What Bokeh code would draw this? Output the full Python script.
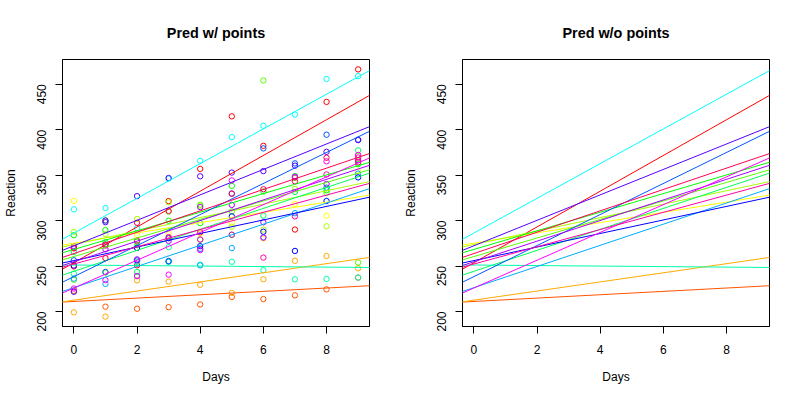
import math
import colorsys
from bokeh.plotting import figure
from bokeh.layouts import row
from bokeh.models import Range1d, FixedTicker, Slope, Title, ColumnDataSource
from bokeh.embed import file_html
from bokeh.resources import INLINE

# ---- data (sleepstudy) ----
subjects = ["308", "309", "310", "330", "331", "332", "333", "334", "335",
            "337", "349", "350", "351", "352", "369", "370", "371", "372"]
days = [0, 1, 2, 3, 4, 5, 6, 7, 8, 9]

r308 = [249.5600, 258.7047, 250.8006, 321.4398, 356.8519, 414.6901, 382.2038, 290.1486, 430.5853, 466.3535]
r309 = [222.7339, 205.2658, 202.9778, 204.7070, 207.7161, 215.9618, 213.6303, 217.7272, 224.2957, 237.3142]
r310 = [199.0539, 194.3322, 234.3200, 232.8416, 229.3074, 220.4579, 235.4208, 255.7511, 261.0125, 247.5153]
r330 = [321.5426, 300.4002, 283.8565, 285.1330, 285.7973, 297.5855, 280.2396, 318.2613, 305.3495, 354.0487]
r331 = [287.6079, 285.0000, 301.8206, 320.1153, 316.2773, 293.3187, 290.0750, 334.8177, 293.7469, 371.5811]
r332 = [234.8606, 242.8118, 272.9613, 309.7688, 317.4629, 309.9976, 454.1619, 346.8311, 330.3003, 253.8644]
r333 = [283.8424, 289.5550, 276.7693, 299.8097, 297.1710, 338.1665, 332.0265, 348.8399, 333.3600, 362.0428]
r334 = [265.4731, 276.2012, 243.3647, 254.6723, 279.0244, 284.1912, 305.5248, 331.5229, 335.7469, 377.2990]
r335 = [241.6083, 273.9472, 254.4907, 270.8021, 251.4519, 254.6362, 245.4523, 235.3110, 235.7541, 237.2466]
r337 = [312.3666, 313.8058, 291.6112, 346.1222, 365.7324, 391.8385, 404.2601, 416.6923, 455.8643, 458.9167]
r349 = [236.1032, 230.3167, 238.9256, 254.9220, 250.7103, 269.7744, 281.5648, 308.1020, 336.2806, 351.6451]
r350 = [256.2968, 243.4543, 256.2046, 255.5271, 268.9165, 329.7247, 379.4445, 362.9184, 394.4872, 389.0527]
r351 = [250.5265, 300.0576, 269.8939, 280.5891, 271.8274, 304.6336, 287.7466, 266.5955, 321.5418, 347.5655]
r352 = [221.6771, 298.1939, 326.8785, 346.8555, 348.7402, 352.8287, 354.4266, 360.4326, 375.6406, 388.5417]
r369 = [271.9235, 268.4369, 257.2424, 277.6566, 314.8222, 317.2135, 298.1353, 348.1229, 340.2800, 366.5131]
r370 = [225.2640, 234.5235, 238.9008, 240.4730, 267.5373, 344.1937, 281.1481, 347.5855, 365.1630, 372.2288]
r371 = [269.8804, 272.4428, 277.8989, 281.7895, 279.1705, 284.5120, 259.2658, 304.6306, 350.7807, 369.4692]
r372 = [269.4117, 273.4740, 297.5968, 310.6316, 287.1726, 329.6076, 334.4818, 343.2199, 369.1417, 364.1236]

# per-subject predicted lines (intercept, slope)
intercepts = [253.6637, 211.0064, 212.4447, 275.0957, 273.6654, 260.4447, 268.2456, 244.1725, 251.0714,
              286.2956, 226.1949, 238.3351, 255.9830, 272.2688, 254.6806, 225.7921, 252.2122, 263.7197]
slopes = [19.6662617, 1.8476053, 5.0184295, 5.6529356, 7.3973743, 10.1951090, 10.2436499, 11.5418676, -0.2848792,
          19.0955511, 11.6407181, 17.0815038, 7.4520239, 14.0032871, 11.3395008, 15.2897709, 9.4791297, 11.7513080]

x_ticks = [0, 2, 4, 6, 8]
y_ticks = [200, 250, 300, 350, 400, 450]

reactions = [r308, r309, r310, r330, r331, r332, r333, r334, r335,
             r337, r349, r350, r351, r352, r369, r370, r371, r372]

n = len(subjects)
colors = []
for i in range(n):
    r, g, b = colorsys.hsv_to_rgb(i / n, 1.0, 1.0)
    colors.append("#%02X%02X%02X" % (round(r * 255), round(g * 255), round(b * 255)))

all_y = [v for rr in reactions for v in rr]
xpad = 0.04 * (max(days) - min(days))
ypad = 0.04 * (max(all_y) - min(all_y))
FONT = "Liberation Sans"


def make(title, with_points):
    p = figure(width=400, height=400, output_backend="svg", toolbar_location=None,
               x_range=Range1d(min(days) - xpad, max(days) + xpad),
               y_range=Range1d(min(all_y) - ypad, max(all_y) + ypad),
               min_border_left=59, min_border_right=31, min_border_top=59, min_border_bottom=74)
    p.add_layout(Title(text=title, align="center", text_font_size="14.4px", text_font_style="bold",
                       text_font=FONT, text_color="black", standoff=38), "above")
    p.xgrid.visible = False
    p.ygrid.visible = False
    p.outline_line_color = "black"
    p.outline_line_alpha = 1.0
    p.outline_line_width = 1
    p.background_fill_color = "white"
    p.border_fill_color = "white"
    p.xaxis.ticker = FixedTicker(ticks=x_ticks)
    p.yaxis.ticker = FixedTicker(ticks=y_ticks)
    p.xaxis.axis_label = "Days"
    p.yaxis.axis_label = "Reaction"
    p.yaxis.major_label_orientation = math.pi / 2
    for ax in (p.xaxis[0], p.yaxis[0]):
        ax.major_tick_in = 0
        ax.major_tick_out = 7
        ax.minor_tick_in = 0
        ax.minor_tick_out = 0
        ax.axis_line_color = "black"
        ax.major_tick_line_color = "black"
        ax.major_label_text_font = FONT
        ax.major_label_text_font_size = "12px"
        ax.major_label_text_color = "black"
        ax.axis_label_text_font = FONT
        ax.axis_label_text_font_size = "12px"
        ax.axis_label_text_font_style = "normal"
        ax.axis_label_text_color = "black"
    p.xaxis.major_label_standoff = 11
    p.yaxis.major_label_standoff = 14
    p.xaxis.axis_label_standoff = 13
    p.yaxis.axis_label_standoff = 12

    for i in range(n):
        if with_points:
            src = ColumnDataSource(dict(x=days, y=reactions[i]))
            p.scatter("x", "y", source=src, marker="circle", size=5.4, fill_color=None,
                      line_color=colors[i], line_width=1)
        p.add_layout(Slope(gradient=slopes[i], y_intercept=intercepts[i],
                           line_color=colors[i], line_width=1))
    return p


p1 = make("Pred w/ points", True)
p2 = make("Pred w/o points", False)
layout = row(p1, p2)

open("out.html", "w").write(file_html(layout, INLINE))
